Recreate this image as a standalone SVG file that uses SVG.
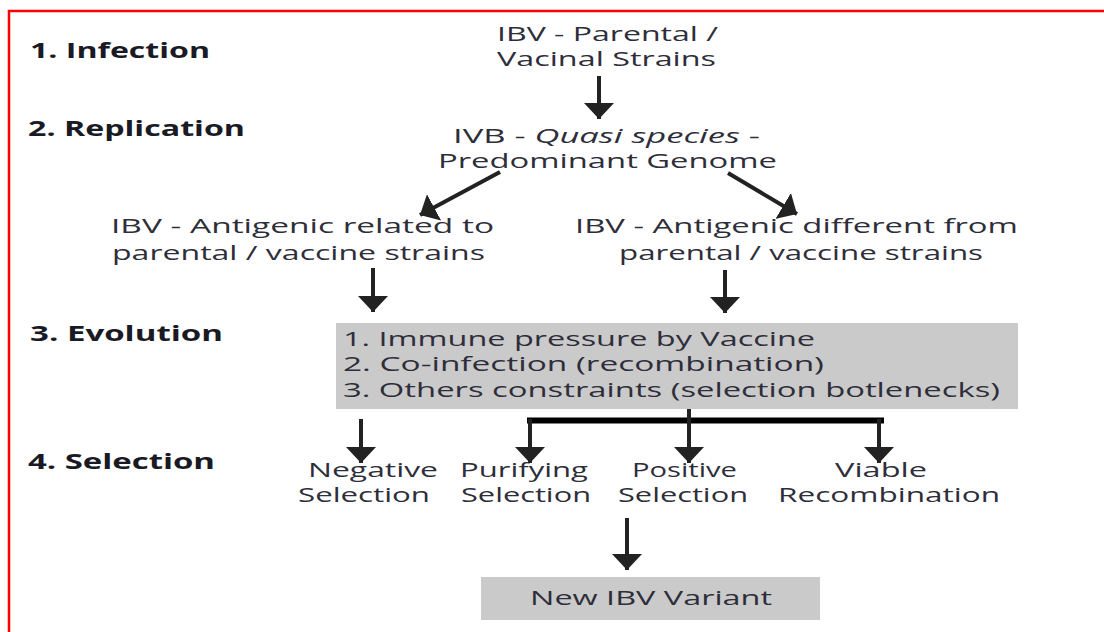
<svg xmlns="http://www.w3.org/2000/svg" width="1104" height="632" viewBox="0 0 1104 632">
<defs>
<style>
.t{font-family:"Open Sans","Noto Sans","Liberation Sans",sans-serif;font-size:20px;fill:#2e2e3a;}
.h{font-family:"Open Sans","Noto Sans","Liberation Sans",sans-serif;font-size:22px;font-weight:bold;fill:#1a1a24;}
.box{fill:#cacaca;}
.c{stroke:#222;stroke-width:4;fill:none;}
.bar{stroke:#000;stroke-width:6;fill:none;}
</style>
<marker id="ah" markerUnits="userSpaceOnUse" viewBox="0 0 16 30" refX="16" refY="15" markerWidth="16" markerHeight="30" orient="auto">
<path d="M0,0 L16,15 L0,30 z" fill="#222"/>
</marker>
</defs>
<rect width="1104" height="632" fill="#fff"/>
<path d="M9,632 V11 H1104" stroke="#f00" stroke-width="2.5" fill="none"/>

<g id="stage-labels">
<text class="h" x="30" y="58" textLength="180" lengthAdjust="spacingAndGlyphs">1. Infection</text>
<text class="h" x="28" y="136" textLength="217" lengthAdjust="spacingAndGlyphs">2. Replication</text>
<text class="h" x="30" y="341" textLength="193" lengthAdjust="spacingAndGlyphs">3. Evolution</text>
<text class="h" x="28" y="469" textLength="187" lengthAdjust="spacingAndGlyphs">4. Selection</text>
</g>

<g id="node-parental">
<text class="t" x="497" y="41" textLength="221" lengthAdjust="spacingAndGlyphs">IBV - Parental /</text>
<text class="t" x="497" y="66" textLength="219" lengthAdjust="spacingAndGlyphs">Vacinal Strains</text>
</g>

<g id="node-quasispecies">
<text class="t" x="453" y="143" textLength="307" lengthAdjust="spacingAndGlyphs">IVB - <tspan font-style="italic">Quasi species</tspan> -</text>
<text class="t" x="438" y="168" textLength="339" lengthAdjust="spacingAndGlyphs">Predominant Genome</text>
</g>

<g id="node-related">
<text class="t" x="111" y="233" textLength="383" lengthAdjust="spacingAndGlyphs">IBV - Antigenic related to</text>
<text class="t" x="112" y="260" textLength="373" lengthAdjust="spacingAndGlyphs">parental / vaccine strains</text>
</g>

<g id="node-different">
<text class="t" x="575" y="233" textLength="443" lengthAdjust="spacingAndGlyphs">IBV - Antigenic different from</text>
<text class="t" x="619" y="260" textLength="364" lengthAdjust="spacingAndGlyphs">parental / vaccine strains</text>
</g>

<g id="node-evolution">
<rect class="box" x="336" y="323" width="682" height="86"/>
<text class="t" x="343" y="346" textLength="472" lengthAdjust="spacingAndGlyphs">1. Immune pressure by Vaccine</text>
<text class="t" x="343" y="371" textLength="481" lengthAdjust="spacingAndGlyphs">2. Co-infection (recombination)</text>
<text class="t" x="343" y="397" textLength="657" lengthAdjust="spacingAndGlyphs">3. Others constraints (selection botlenecks)</text>
</g>

<g id="node-negative">
<text class="t" x="308" y="477" textLength="130" lengthAdjust="spacingAndGlyphs">Negative</text>
<text class="t" x="298" y="502" textLength="132" lengthAdjust="spacingAndGlyphs">Selection</text>
</g>

<g id="node-purifying">
<text class="t" x="460" y="477" textLength="128" lengthAdjust="spacingAndGlyphs">Purifying</text>
<text class="t" x="461" y="502" textLength="130" lengthAdjust="spacingAndGlyphs">Selection</text>
</g>

<g id="node-positive">
<text class="t" x="632" y="477" textLength="105" lengthAdjust="spacingAndGlyphs">Positive</text>
<text class="t" x="618" y="502" textLength="130" lengthAdjust="spacingAndGlyphs">Selection</text>
</g>

<g id="node-viable">
<text class="t" x="835" y="477" textLength="92" lengthAdjust="spacingAndGlyphs">Viable</text>
<text class="t" x="778" y="502" textLength="222" lengthAdjust="spacingAndGlyphs">Recombination</text>
</g>

<g id="node-variant">
<rect class="box" x="481" y="577" width="339" height="43"/>
<text class="t" x="530" y="605" textLength="242" lengthAdjust="spacingAndGlyphs">New IBV Variant</text>
</g>

<g id="connectors">
<line class="c" x1="599" y1="76" x2="599" y2="119" marker-end="url(#ah)"/>
<line class="c" x1="500" y1="172" x2="420" y2="215" marker-end="url(#ah)"/>
<line class="c" x1="728" y1="173" x2="797" y2="214" marker-end="url(#ah)"/>
<line class="c" x1="373" y1="268" x2="373" y2="312" marker-end="url(#ah)"/>
<line class="c" x1="725" y1="270" x2="725" y2="313" marker-end="url(#ah)"/>
<line class="c" x1="361" y1="419" x2="361" y2="463" marker-end="url(#ah)"/>
<line class="bar" x1="527" y1="420.5" x2="884" y2="420.5"/>
<line class="c" x1="689" y1="409" x2="689" y2="421"/>
<line class="c" x1="530" y1="419" x2="530" y2="463" marker-end="url(#ah)"/>
<line class="c" x1="689" y1="419" x2="689" y2="463" marker-end="url(#ah)"/>
<line class="c" x1="879" y1="419" x2="879" y2="463" marker-end="url(#ah)"/>
<line class="c" x1="627" y1="518" x2="627" y2="570" marker-end="url(#ah)"/>
</g>
</svg>
